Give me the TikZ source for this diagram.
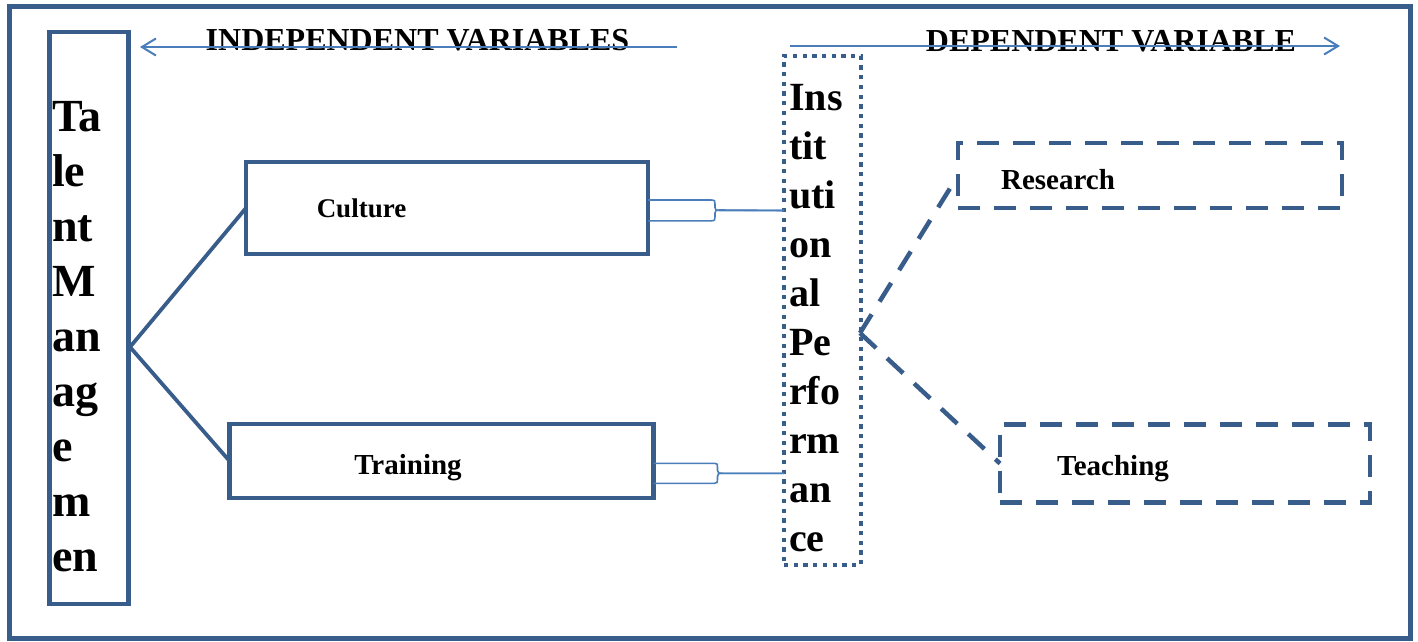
\documentclass[tikz,border=0pt]{standalone}
\usepackage{fontspec}
\setmainfont{Liberation Serif}
\usetikzlibrary{arrows.meta}
\definecolor{frameblue}{RGB}{56,93,138}
\definecolor{lineblue}{RGB}{74,126,187}

\begin{document}
\begin{tikzpicture}[x=1pt,y=-1pt,
  outerframe/.style={draw=frameblue, line width=4.5pt},
  solidbox/.style={draw=frameblue, line width=4.5pt, inner sep=0pt, outer sep=0pt},
  dotbox/.style={draw=frameblue, line width=4.3pt, dash pattern=on 4.3pt off 5.4pt, inner sep=0pt, outer sep=0pt},
  dashbox/.style={draw=frameblue, line width=4.5pt, dash pattern=on 22pt off 14pt, inner sep=0pt, outer sep=0pt},
  branch/.style={draw=frameblue, line width=3.8pt},
  dashbranch/.style={draw=frameblue, line width=4.5pt, dash pattern=on 22pt off 15pt},
  conn/.style={draw=lineblue, line width=1.6pt},
  headarrow/.style={draw=lineblue, line width=2pt, -{Straight Barb[length=14pt,width=17pt,line width=2pt]}},
  heading/.style={font=\fontsize{32}{38}\selectfont\bfseries, inner sep=0pt},
  label/.style={font=\fontsize{29}{34}\selectfont\bfseries, inner sep=0pt},
  tall/.style={align=left, inner sep=0pt, anchor=north west}
]
\useasboundingbox (0,0) rectangle (1418,641);

% outer frame
\draw[outerframe] (9.5,6.5) rectangle (1410.5,638.5);

% boxes
\node[solidbox, minimum width=79pt, minimum height=572pt] (tm) at (89,318) {};
\node[solidbox, minimum width=402pt, minimum height=92pt] (cul) at (447,208) {};
\node[solidbox, minimum width=424pt, minimum height=74pt] (tra) at (441.5,461) {};
\node[dotbox, minimum width=77pt, minimum height=509pt] (ip) at (822.5,310.5) {};
\node[dashbox, minimum width=384pt, minimum height=65pt] (res) at (1150,175.5) {};
\node[dashbox, minimum width=370pt, minimum height=78pt] (tea) at (1185,463.5) {};

% stacked box texts
\node[tall, font=\fontsize{46}{55}\selectfont\bfseries] (tmtext) at (52,101.5)
  {Ta\\le\\nt\\M\\an\\ag\\e\\m\\en};
\node[tall, font=\fontsize{40}{49}\selectfont\bfseries] (iptext) at (789,84)
  {Ins\\tit\\uti\\on\\al\\Pe\\rfo\\rm\\an\\ce};

% box labels
\node[label, anchor=base, font=\fontsize{27}{32}\selectfont\bfseries] (cultext) at (361.5,217) {Culture};
\node[label, anchor=base] (tratext) at (408,474) {Training};
\node[label, anchor=base] (restext) at (1058,189) {Research};
\node[label, anchor=base] (teatext) at (1113,475) {Teaching};

% headings with their arrows
\node[heading, anchor=base] (indep) at (417.5,50) {INDEPENDENT VARIABLES};
\node[heading, anchor=base] (dep) at (1111,51) {DEPENDENT VARIABLE};
\coordinate (indepL) at (140,47);
\coordinate (indepR) at (677,47);
\coordinate (depL) at (790,46);
\coordinate (depR) at (1340,46);
\draw[headarrow] (indepR) -- (indepL);
\draw[headarrow] (depL) -- (depR);

% branches from talent management
\coordinate (tmout) at (130,347);
\draw[branch] (tmout) -- (cul.west);
\draw[branch] (tmout) -- (tra.west);

% bracket connectors into institutional performance
\draw[conn] (cul.east) ++(0,-8) -- ++(63,0) .. controls ++(4,0) and ++(0,-3) .. ++(4,4)
  -- ++(0,3.5) .. controls ++(0,2.5) and ++(-4,0) .. ++(5,3)
  -- (ip.west |- 0,210.5);
\draw[conn] (cul.east) ++(0,12.8) -- ++(63,0) .. controls ++(4,0) and ++(0,3) .. ++(4,-4)
  -- ++(0,-3.8) .. controls ++(0,-2.5) and ++(-4,0) .. ++(5,-3)
  -- (ip.west |- 0,210.5);
\draw[conn] (tra.east) ++(0,2.3) -- ++(61,0) .. controls ++(3,0) and ++(0,-3) .. ++(3,4)
  -- ++(0,3) .. controls ++(0,2.5) and ++(-4,0) .. ++(5,3)
  -- (ip.west |- 0,473.3);
\draw[conn] (tra.east) ++(0,22.3) -- ++(61,0) .. controls ++(3,0) and ++(0,3) .. ++(3,-4)
  -- ++(0,-3) .. controls ++(0,-2.5) and ++(-4,0) .. ++(5,-3)
  -- (ip.west |- 0,473.3);

% dashed branches to the dependent measures
\coordinate (ipout) at (860,333);
\draw[dashbranch] (ipout) -- (res.west);
\draw[dashbranch] (ipout) -- (tea.west);
\end{tikzpicture}
\end{document}
